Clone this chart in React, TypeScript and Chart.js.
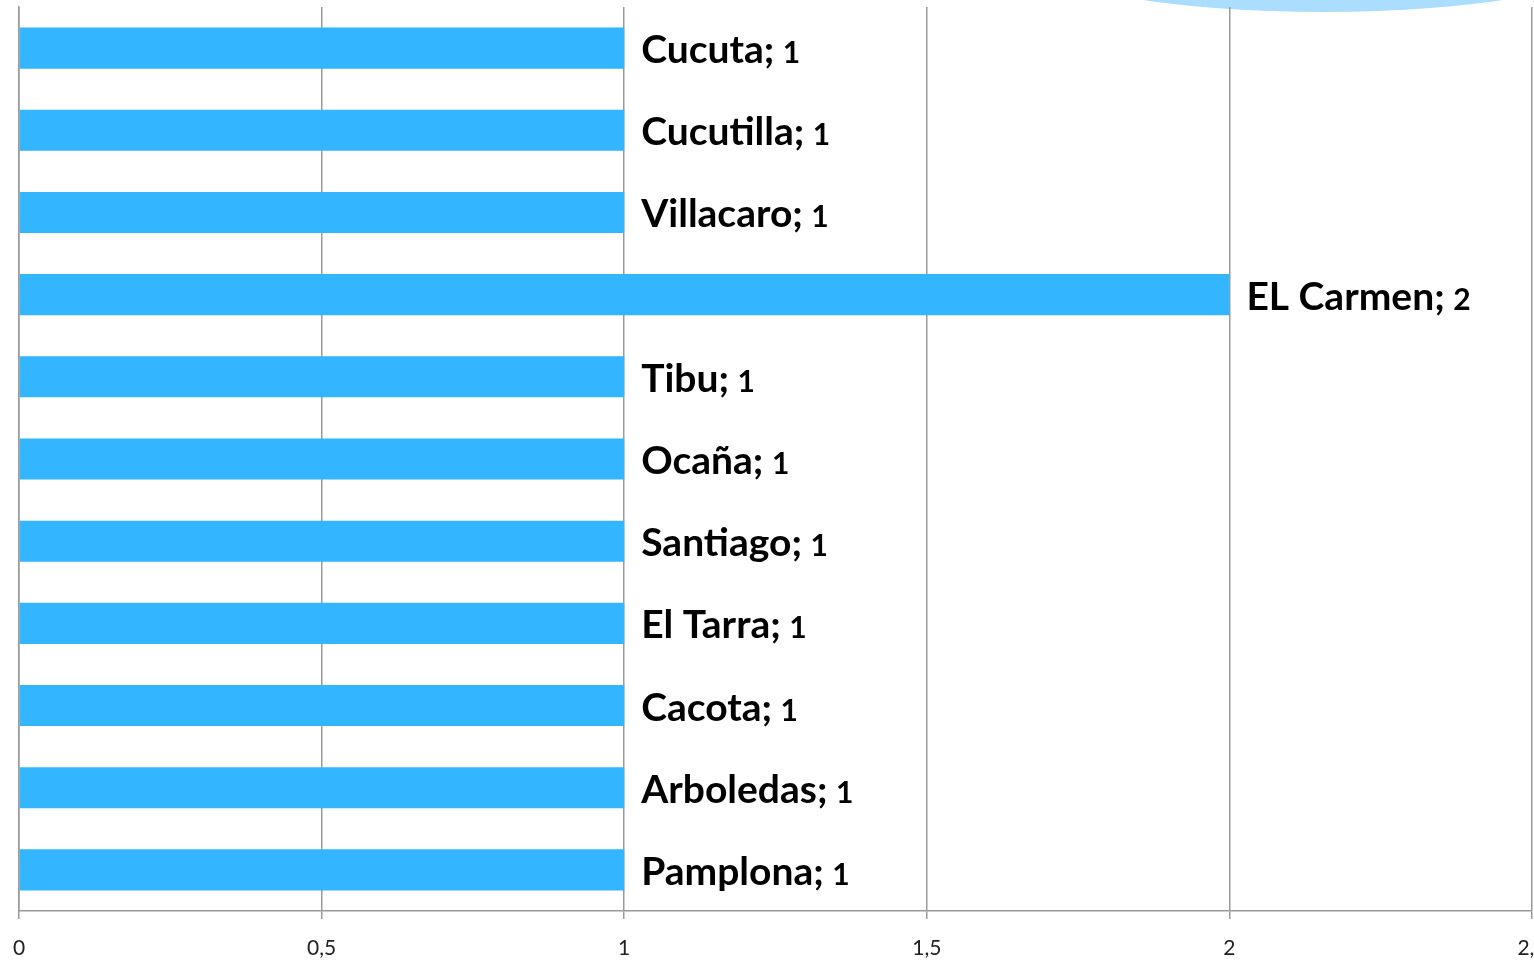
import React, { useEffect, useRef } from "react";
import { Chart, registerables } from "chart.js";

Chart.register(...registerables);

const categories = [
  "Cucuta",
  "Cucutilla",
  "Villacaro",
  "EL Carmen",
  "Tibu",
  "Ocaña",
  "Santiago",
  "El Tarra",
  "Cacota",
  "Arboledas",
  "Pamplona",
];
const values = [1, 1, 1, 2, 1, 1, 1, 1, 1, 1, 1];
const xTicks = [0, 0.5, 1, 1.5, 2, 2.5];

const barColor = "#33B5FF";
const gridColor = "#9a9a9a";

const labelPlugin = {
  id: "barLabels",
  afterDatasetsDraw(chart: any) {
    const ctx = chart.ctx;
    const meta = chart.getDatasetMeta(0);
    ctx.save();
    ctx.fillStyle = "#000";
    ctx.textBaseline = "alphabetic";
    ctx.textAlign = "left";
    meta.data.forEach((el: any, i: number) => {
      const name = `${categories[i]}; `;
      const num = String(values[i]).replace(".", ",");
      const x = el.x + 17;
      const y = el.y + 15;
      ctx.font = "bold 39px Lato";
      ctx.fillText(name, x, y);
      const w = ctx.measureText(name).width;
      ctx.font = "bold 30px Lato";
      ctx.fillText(num, x + w - 1, y);
    });
    ctx.restore();
  },
};

export default function App() {
  const ref = useRef<HTMLCanvasElement | null>(null);
  useEffect(() => {
    if (!ref.current) return;
    const chart = new Chart(ref.current, {
      type: "bar",
      data: {
        labels: categories,
        datasets: [
          {
            data: values,
            backgroundColor: barColor,
            borderWidth: 0,
            barPercentage: 0.5,
            categoryPercentage: 1,
          },
        ],
      },
      options: {
        indexAxis: "y",
        animation: false,
        responsive: false,
        maintainAspectRatio: false,
        layout: { padding: { left: 19, right: 28, top: 7, bottom: 0 } },
        plugins: {
          legend: { display: false },
          tooltip: { enabled: false },
        },
        scales: {
          x: {
            min: 0,
            max: 2.5,
            afterBuildTicks: (axis: any) => {
              axis.ticks = xTicks.map((v) => ({ value: v }));
            },
            afterFit: (s: any) => {
              s.height = 50;
              s.paddingLeft = 0;
              s.paddingRight = 0;
            },
            ticks: {
              callback: (v: any) => String(v).replace(".", ","),
              font: { family: "Lato", size: 21 },
              color: "#222",
              padding: 17,
              maxRotation: 0,
              autoSkip: false,
            },
            grid: {
              color: gridColor,
              lineWidth: 1.5,
              tickLength: 8,
              drawTicks: true,
            },
            border: { display: true, color: gridColor, width: 1.5 },
          },
          y: {
            afterFit: (s: any) => {
              s.width = 0;
              s.paddingTop = 0;
              s.paddingBottom = 0;
            },
            ticks: { display: false },
            grid: { display: false, drawTicks: false },
            border: { display: true, color: gridColor, width: 1.5 },
          },
        },
      },
      plugins: [labelPlugin],
    });
    return () => chart.destroy();
  }, []);
  return (
    <div
      style={{
        position: "fixed",
        left: 0,
        top: 0,
        width: 1534,
        height: 961,
        overflow: "hidden",
        background: "#fff",
      }}
    >
      <div
        style={{
          position: "absolute",
          left: 1042,
          top: -92,
          width: 562,
          height: 104,
          borderRadius: "50%",
          background: "#AADDFF",
        }}
      />
      <canvas
        ref={ref}
        width={1560}
        height={961}
        style={{ position: "absolute", left: 0, top: 0, width: 1560, height: 961 }}
      />
    </div>
  );
}
